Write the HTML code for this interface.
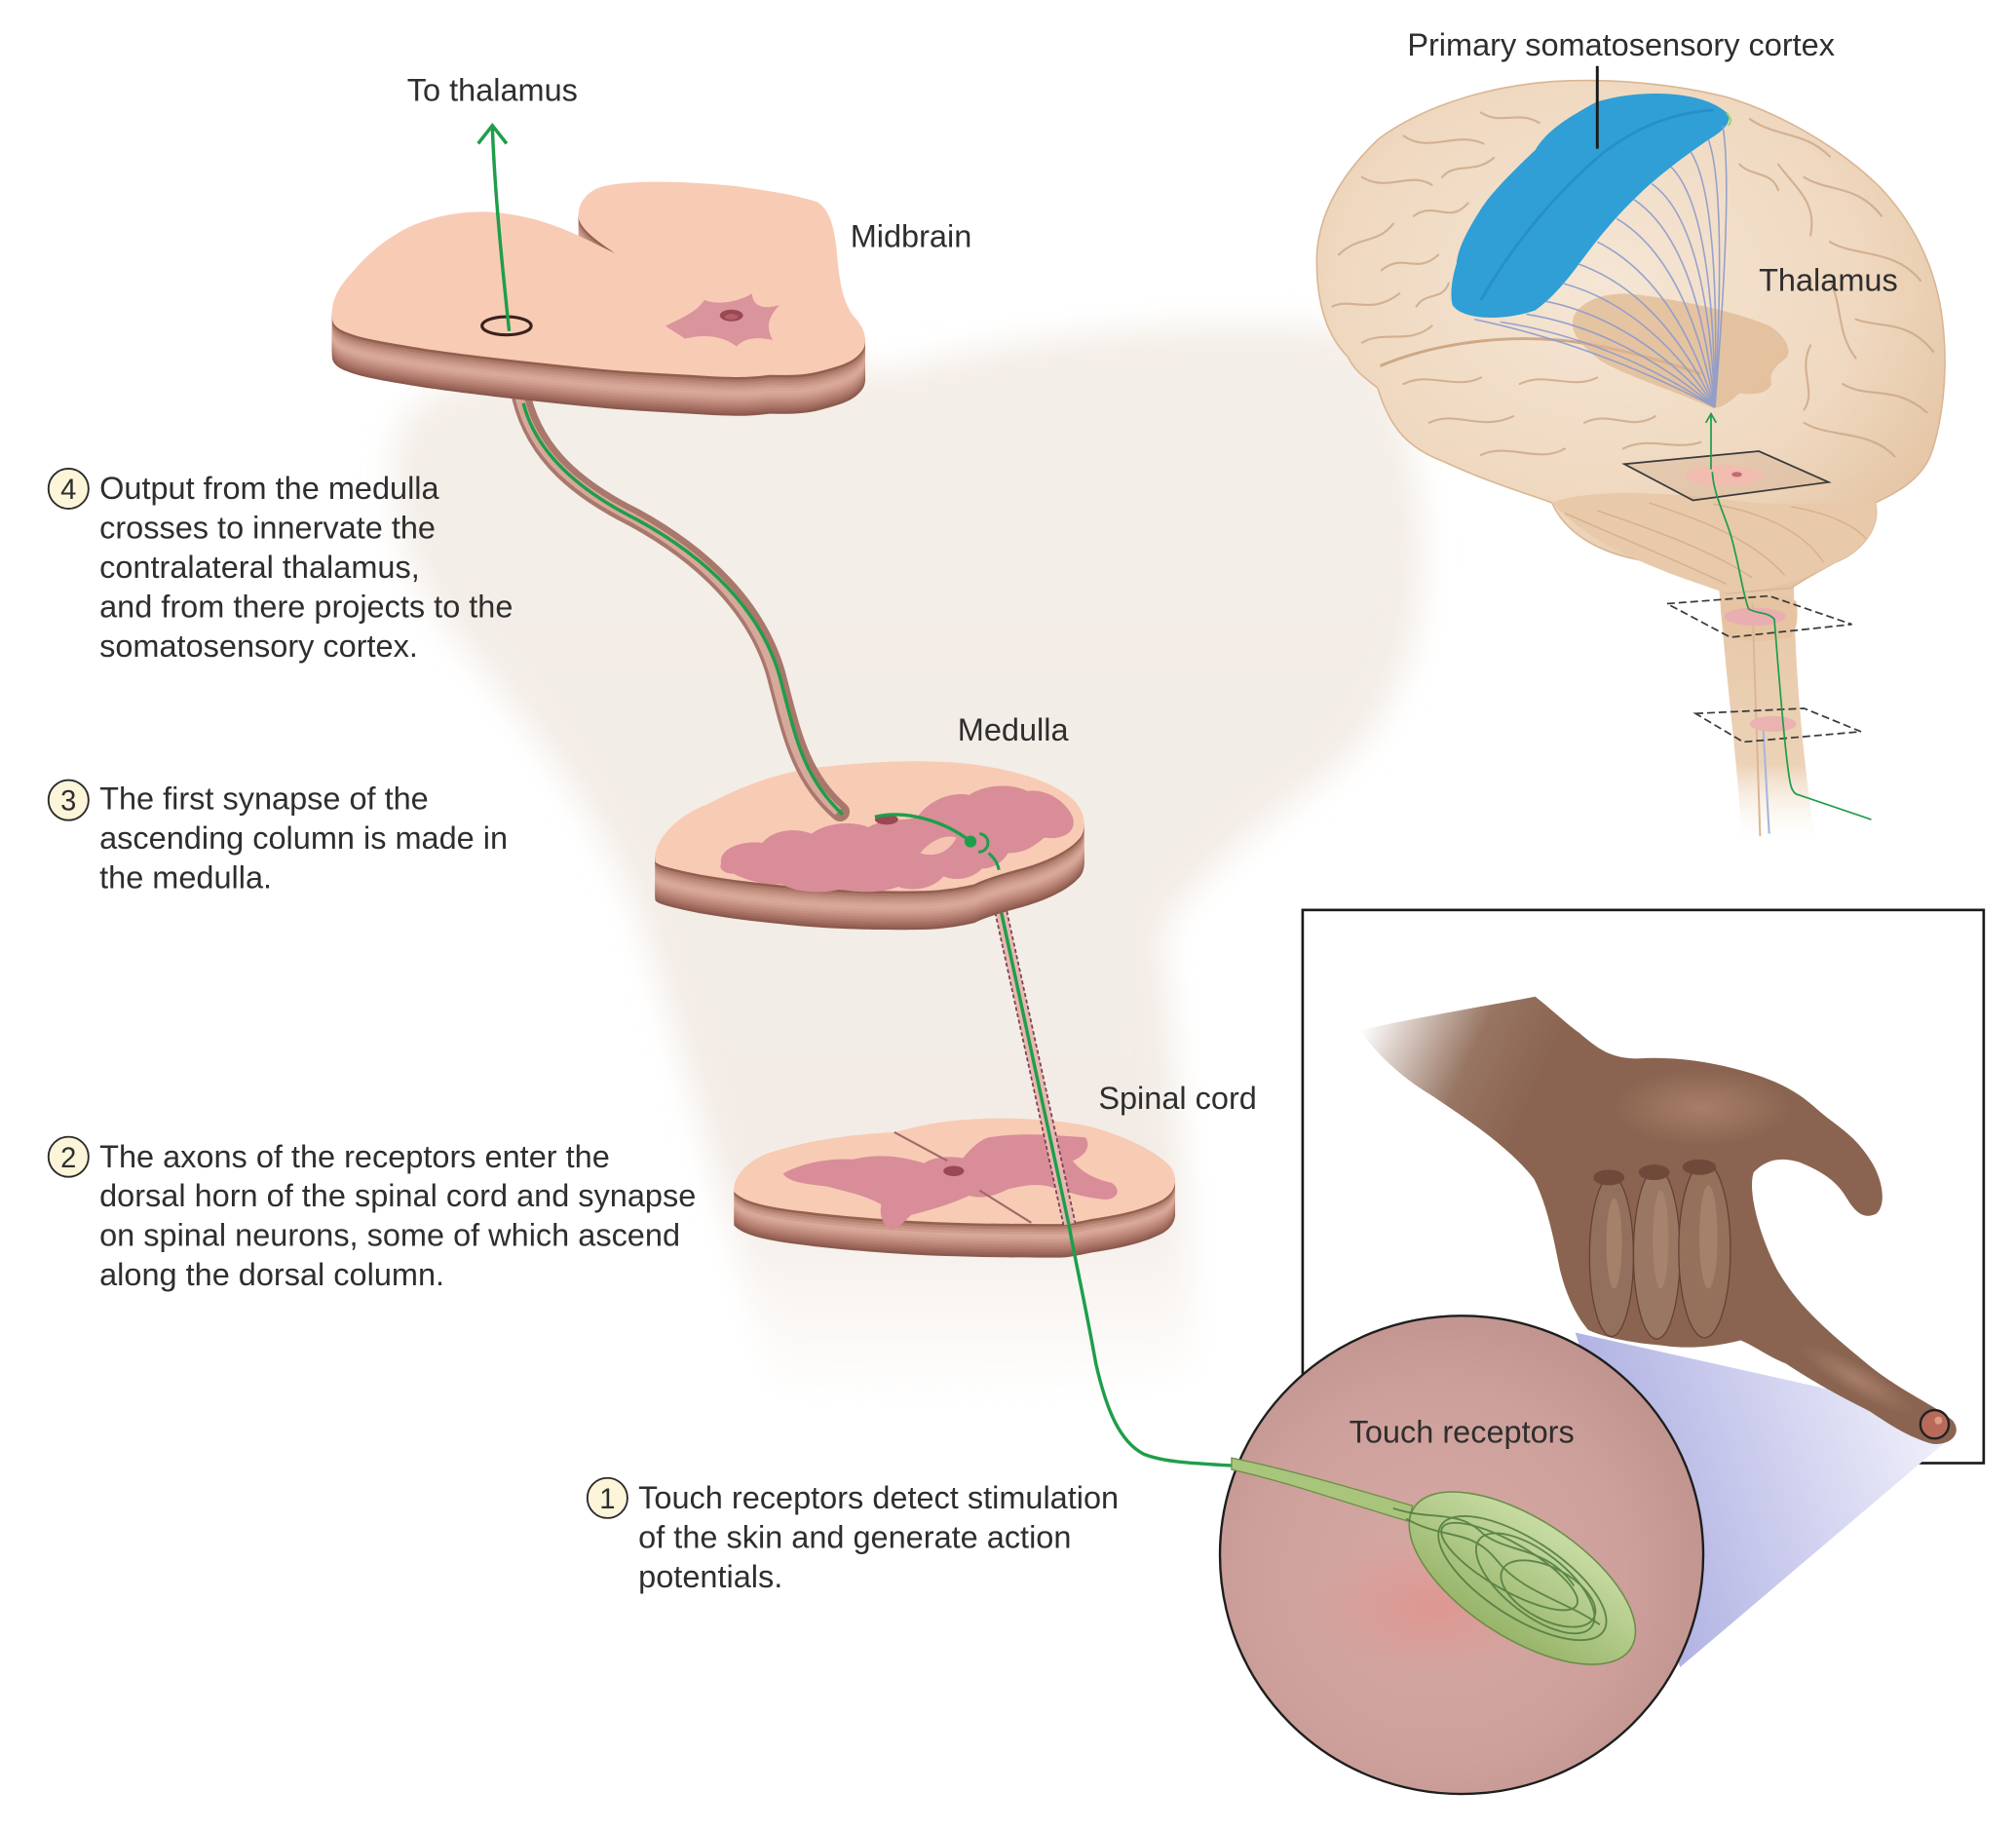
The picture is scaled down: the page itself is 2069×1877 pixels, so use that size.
<!DOCTYPE html>
<html><head><meta charset="utf-8">
<style>
html,body{margin:0;padding:0;background:#fff;}
svg{display:block;}
text{font-family:"Liberation Sans",Arial,sans-serif;fill:#2e2e2e;}
</style></head><body>
<svg width="2069" height="1877" viewBox="0 0 1560 1415" xmlns="http://www.w3.org/2000/svg" xmlns:xlink="http://www.w3.org/1999/xlink">
<defs>
  <filter id="blurBig" x="-30%" y="-30%" width="160%" height="160%"><feGaussianBlur stdDeviation="12"/></filter>
  <filter id="blurS" x="-30%" y="-30%" width="160%" height="160%"><feGaussianBlur stdDeviation="1.5"/></filter>

  <path id="mbTop" d="M 257,246 C 256,232 262,222 273,210 C 285,196 300,183 320,174 C 340,166 360,163 380,164 C 405,166 425,172 445,181 C 458,187 468,192 476,196 C 465,188 452,180 448,170 C 446,160 452,148 467,144 C 490,139 530,140 570,144 C 600,148 620,152 632,156 C 642,162 646,175 648,200 C 650,220 652,232 660,244 C 668,252 672,262 668,270 C 662,280 650,283 635,287 C 620,291 605,290 595,290 C 580,292 570,292 550,291 C 520,289 490,288 460,285 C 420,281 380,277 330,270 C 300,265 280,262 268,257 C 260,254 257,250 257,246 Z"/>
  <path id="medTop" d="M 507,666 C 505,650 525,630 548,622 C 570,610 600,598 630,594 C 680,588 730,587 764,593 C 795,598 820,608 832,620 C 842,632 840,645 834,650 C 825,660 805,668 790,672 C 775,676 762,680 754,684 C 745,686 735,688 720,689 C 690,690 640,689 606,685 C 575,682 545,678 525,673 C 512,670 507,668 507,666 Z"/>
  <path id="spTop" d="M 568,920 C 568,910 578,898 595,892 C 620,884 650,878 692,876 C 700,874 715,870 730,868 C 760,864 800,864 836,870 C 865,876 895,890 906,903 C 912,912 910,922 900,928 C 885,936 865,940 845,943 C 835,945 826,947 820,947 C 800,947 770,947 740,946 C 700,945 650,941 620,937 C 595,934 575,930 568,922 Z"/>

  <linearGradient id="coneG" x1="1250" y1="1170" x2="1500" y2="1090" gradientUnits="userSpaceOnUse">
    <stop offset="0" stop-color="#aeb0e2"/>
    <stop offset="1" stop-color="#f0f0fb"/>
  </linearGradient>
  <radialGradient id="circG" cx="0.45" cy="0.55" r="0.6">
    <stop offset="0" stop-color="#d7a9a4"/>
    <stop offset="0.65" stop-color="#cda09b"/>
    <stop offset="1" stop-color="#bf928d"/>
  </radialGradient>
  <radialGradient id="redSpot" cx="0.5" cy="0.5" r="0.5">
    <stop offset="0" stop-color="#e28f8a" stop-opacity="0.7"/>
    <stop offset="1" stop-color="#e28f8a" stop-opacity="0"/>
  </radialGradient>
  <linearGradient id="bulbG" x1="0" y1="0" x2="0" y2="1">
    <stop offset="0" stop-color="#c7dca3"/>
    <stop offset="1" stop-color="#98b56a"/>
  </linearGradient>
  <linearGradient id="handG" x1="1060" y1="790" x2="1190" y2="850" gradientUnits="userSpaceOnUse">
    <stop offset="0" stop-color="#8c6651" stop-opacity="0"/>
    <stop offset="0.6" stop-color="#8c6651" stop-opacity="0.9"/>
    <stop offset="1" stop-color="#8a6450"/>
  </linearGradient>
  <radialGradient id="handHi" cx="0.5" cy="0.5" r="0.5">
    <stop offset="0" stop-color="#ad836d" stop-opacity="0.85"/>
    <stop offset="1" stop-color="#ad836d" stop-opacity="0"/>
  </radialGradient>
  <linearGradient id="stemG" x1="0" y1="0" x2="0" y2="1">
    <stop offset="0" stop-color="#e6c6a6"/>
    <stop offset="0.7" stop-color="#ecd2b6"/>
    <stop offset="1" stop-color="#ffffff" stop-opacity="0"/>
  </linearGradient>
  <radialGradient id="brainG" cx="0.45" cy="0.4" r="0.65">
    <stop offset="0" stop-color="#f5e6d5"/>
    <stop offset="0.65" stop-color="#efd8bf"/>
    <stop offset="1" stop-color="#e4c4a3"/>
  </radialGradient>
  <linearGradient id="trunkG" x1="0" y1="0" x2="0" y2="1">
    <stop offset="0" stop-color="#f4eee8"/>
    <stop offset="0.8" stop-color="#f3ece6"/>
    <stop offset="1" stop-color="#ffffff"/>
  </linearGradient>
</defs>

<rect x="0" y="0" width="1560" height="1415" fill="#ffffff"/>

<!-- body silhouette -->
<path d="M 305,370 C 300,320 330,295 390,292 L 700,285 C 800,255 950,245 1040,255 C 1075,270 1090,320 1100,400 C 1105,480 1090,540 1040,590 C 990,630 930,670 900,720 C 910,840 920,950 925,1060 C 850,1090 680,1090 600,1080 C 570,960 530,820 495,710 C 460,620 400,550 350,490 C 318,450 305,410 305,370 Z" fill="url(#trunkG)" filter="url(#blurBig)"/>

<!-- ================= SPINAL CORD ================= -->
<g>
  <use xlink:href="#spTop" transform="translate(0,26)" fill="#8c5a4e"/>
  <use xlink:href="#spTop" transform="translate(0,24)" fill="#9a6659"/>
  <use xlink:href="#spTop" transform="translate(0,22)" fill="#a67164"/>
  <use xlink:href="#spTop" transform="translate(0,20)" fill="#b17c6e"/>
  <use xlink:href="#spTop" transform="translate(0,18)" fill="#bb8678"/>
  <use xlink:href="#spTop" transform="translate(0,16)" fill="#c49082"/>
  <use xlink:href="#spTop" transform="translate(0,14)" fill="#cd9a8b"/>
  <use xlink:href="#spTop" transform="translate(0,12)" fill="#d5a494"/>
  <use xlink:href="#spTop" transform="translate(0,10)" fill="#d8a898"/>
  <use xlink:href="#spTop" transform="translate(0,8)" fill="#cf9d8d"/>
  <use xlink:href="#spTop" transform="translate(0,6)" fill="#c49181"/>
  <use xlink:href="#spTop" transform="translate(0,4)" fill="#b28070"/>
  <use xlink:href="#spTop" transform="translate(0,2)" fill="#96624f"/>
  <use xlink:href="#spTop" fill="#f8cbb5"/>
  <path d="M 606,908 C 620,900 640,896 660,897 C 680,892 700,895 715,900 C 722,895 735,894 745,896 C 752,888 758,882 765,880 C 790,876 815,878 840,880 C 845,888 838,895 830,898 C 835,905 845,912 860,915 C 868,920 865,928 855,928 C 840,927 825,922 812,918 C 800,915 790,918 780,920 C 770,925 760,928 750,925 C 735,932 720,936 705,940 C 700,945 695,950 690,952 C 683,948 680,940 682,932 C 670,925 655,922 640,918 C 625,916 610,915 606,908 Z" fill="#d88d99"/>
  <ellipse cx="738" cy="906" rx="8" ry="4" fill="#9a4853"/>
  <line x1="692" y1="876" x2="733" y2="898" stroke="#a06a66" stroke-width="1.6"/>
  <line x1="758" y1="921" x2="798" y2="946" stroke="#a06a66" stroke-width="1.6"/>
</g>

<!-- dashed ascending tube -->
<polygon points="769,701 778,700 832,946 823,948" fill="#e6b8b4"/>
<line x1="769" y1="701" x2="823" y2="948" stroke="#7d3f46" stroke-width="1.3" stroke-dasharray="3 2"/>
<line x1="778" y1="700" x2="832" y2="946" stroke="#7d3f46" stroke-width="1.3" stroke-dasharray="3 2"/>
<line x1="774" y1="702" x2="827" y2="947" stroke="#1e9e4a" stroke-width="2.6"/>
<path d="M 827,947 C 832,975 840,1010 848,1055 C 856,1090 866,1115 885,1125 C 900,1131 920,1132 955,1134" fill="none" stroke="#1e9e4a" stroke-width="2.6"/>

<!-- ================= MEDULLA ================= -->
<g>
  <use xlink:href="#medTop" transform="translate(0,30)" fill="#8c5a4e"/>
  <use xlink:href="#medTop" transform="translate(0,28)" fill="#9a6659"/>
  <use xlink:href="#medTop" transform="translate(0,26)" fill="#a67164"/>
  <use xlink:href="#medTop" transform="translate(0,24)" fill="#b17c6e"/>
  <use xlink:href="#medTop" transform="translate(0,22)" fill="#bb8678"/>
  <use xlink:href="#medTop" transform="translate(0,20)" fill="#c49082"/>
  <use xlink:href="#medTop" transform="translate(0,18)" fill="#cd9a8b"/>
  <use xlink:href="#medTop" transform="translate(0,16)" fill="#d4a393"/>
  <use xlink:href="#medTop" transform="translate(0,14)" fill="#d8a898"/>
  <use xlink:href="#medTop" transform="translate(0,12)" fill="#d6a595"/>
  <use xlink:href="#medTop" transform="translate(0,10)" fill="#cf9d8d"/>
  <use xlink:href="#medTop" transform="translate(0,8)" fill="#c69383"/>
  <use xlink:href="#medTop" transform="translate(0,6)" fill="#bb8778"/>
  <use xlink:href="#medTop" transform="translate(0,4)" fill="#ab7869"/>
  <use xlink:href="#medTop" transform="translate(0,2)" fill="#93604f"/>
  <use xlink:href="#medTop" fill="#f8cbb5"/>
  <path d="M 558,668 C 556,656 575,650 590,652 C 598,642 615,640 628,645 C 640,636 660,635 672,640 C 685,632 700,636 710,632 C 718,620 735,612 750,615 C 760,608 780,605 795,612 C 810,610 825,620 830,632 C 834,645 820,650 808,648 C 800,655 792,660 780,660 C 775,668 768,672 760,672 C 752,680 740,682 730,678 C 722,688 705,690 695,686 C 680,692 660,690 650,688 C 635,692 615,690 605,684 C 590,685 575,680 568,676 C 560,676 556,672 558,668 Z" fill="#d88d99"/>
  <path d="M 712,660 C 720,650 732,645 740,648 C 735,658 725,664 712,660 Z" fill="#f5c4b0"/>
  <ellipse cx="686" cy="634" rx="9" ry="4" fill="#9a4853"/>
</g>
<!-- synapse in medulla -->
<path d="M 677,632 C 702,626 732,636 751,651" fill="none" stroke="#1e9e4a" stroke-width="2.6"/>
<circle cx="751" cy="651" r="4.6" fill="#1e9e4a"/>
<path d="M 758,645 A 6.5 6.5 0 1 1 757,659" fill="none" stroke="#1e9e4a" stroke-width="2.2"/>
<path d="M 765,660 C 770,664 772,668 773,673" fill="none" stroke="#1e9e4a" stroke-width="2.4"/>

<!-- tube midbrain->medulla -->
<path d="M 402,300 C 410,345 440,375 490,400 C 545,430 585,470 600,520 C 612,565 618,600 650,628" fill="none" stroke="#a9776b" stroke-width="15" stroke-linecap="round"/>
<path d="M 402,300 C 410,345 440,375 490,400 C 545,430 585,470 600,520 C 612,565 618,600 650,628" fill="none" stroke="#d7a89c" stroke-width="7" transform="translate(-1.5,0)"/>
<path d="M 405,312 C 414,347 443,377 493,402 C 548,432 588,472 603,522 C 615,567 620,600 652,630" fill="none" stroke="#1e9e4a" stroke-width="2.6"/>

<!-- ================= MIDBRAIN ================= -->
<g>
  <use xlink:href="#mbTop" transform="translate(0,30)" fill="#8c5a4e"/>
  <use xlink:href="#mbTop" transform="translate(0,28)" fill="#9a6659"/>
  <use xlink:href="#mbTop" transform="translate(0,26)" fill="#a67164"/>
  <use xlink:href="#mbTop" transform="translate(0,24)" fill="#b17c6e"/>
  <use xlink:href="#mbTop" transform="translate(0,22)" fill="#bb8678"/>
  <use xlink:href="#mbTop" transform="translate(0,20)" fill="#c49082"/>
  <use xlink:href="#mbTop" transform="translate(0,18)" fill="#cd9a8b"/>
  <use xlink:href="#mbTop" transform="translate(0,16)" fill="#d4a393"/>
  <use xlink:href="#mbTop" transform="translate(0,14)" fill="#d8a898"/>
  <use xlink:href="#mbTop" transform="translate(0,12)" fill="#d6a595"/>
  <use xlink:href="#mbTop" transform="translate(0,10)" fill="#cf9d8d"/>
  <use xlink:href="#mbTop" transform="translate(0,8)" fill="#c69383"/>
  <use xlink:href="#mbTop" transform="translate(0,6)" fill="#bb8778"/>
  <use xlink:href="#mbTop" transform="translate(0,4)" fill="#ab7869"/>
  <use xlink:href="#mbTop" transform="translate(0,2)" fill="#93604f"/>
  <use xlink:href="#mbTop" fill="#f8cbb5"/>
  <path d="M 515,252 C 530,245 540,240 545,232 C 555,236 570,234 582,227 C 582,236 590,240 603,236 C 595,245 592,252 598,263 C 585,260 575,262 570,268 C 560,260 545,258 530,262 C 525,258 520,256 515,252 Z" fill="#d68e99" opacity="0.9"/>
  <ellipse cx="566" cy="244" rx="9" ry="4.5" fill="#9a4853"/>
  <ellipse cx="566" cy="245" rx="5" ry="2.2" fill="#b65f6a"/>
  <ellipse cx="392" cy="252" rx="19" ry="7" fill="none" stroke="#3a221d" stroke-width="2.4"/>
</g>

<!-- green arrow to thalamus -->
<path d="M 394,256 C 388,200 383,150 381,99" fill="none" stroke="#1e9e4a" stroke-width="2.6"/>
<polyline points="370,111 381,97 392,111" fill="none" stroke="#1e9e4a" stroke-width="2.6"/>

<!-- ================= BRAIN ================= -->
<g transform="translate(-4,-3)">
  <!-- brainstem -->
  <path d="M 1333,440 C 1338,520 1350,600 1352,660 L 1410,660 C 1400,600 1392,520 1392,440 Z" fill="url(#stemG)"/>
  <path d="M 1336,468 C 1350,462 1380,462 1394,468 C 1396,482 1394,490 1390,496 C 1370,500 1350,500 1340,494 C 1336,486 1335,476 1336,468 Z" fill="#e6c4a2"/>
  <line x1="1360" y1="470" x2="1366" y2="650" stroke="#dbb694" stroke-width="1.5"/>
  <line x1="1368" y1="560" x2="1373" y2="648" stroke="#a9b6dc" stroke-width="1.6"/>
  <!-- main brain -->
  <path d="M 1047,279 C 1030,262 1022,235 1023,199 C 1025,170 1040,140 1070,111 C 1100,88 1150,70 1205,66 C 1250,63 1300,68 1340,78 C 1380,90 1425,115 1458,147 C 1485,175 1502,210 1507,250 C 1512,290 1507,330 1498,355 C 1490,375 1470,385 1455,392 C 1460,410 1445,430 1424,438 C 1410,446 1398,452 1390,458 L 1340,462 C 1320,450 1290,440 1272,436 C 1240,430 1215,415 1205,392 C 1190,386 1160,378 1121,360 C 1095,350 1080,336 1070,303 C 1060,295 1052,290 1047,279 Z" fill="url(#brainG)" stroke="#d9b693" stroke-width="1.2"/>
  <!-- cerebellum -->
  <path d="M 1205,392 C 1235,380 1300,384 1360,392 C 1410,394 1445,390 1455,392 C 1460,410 1445,430 1424,438 C 1400,452 1380,458 1340,462 C 1300,448 1240,430 1205,392 Z" fill="#e8c9a9"/>
  <g fill="none" stroke="#d3ab88" stroke-width="1.1" opacity="0.8">
    <path d="M 1215,400 C 1260,420 1310,440 1340,455"/>
    <path d="M 1240,398 C 1290,415 1330,430 1360,450"/>
    <path d="M 1280,392 C 1320,405 1360,420 1385,448"/>
    <path d="M 1330,393 C 1370,400 1400,415 1415,438"/>
    <path d="M 1390,395 C 1420,400 1440,410 1448,420"/>
  </g>
  <!-- sulci -->
  <g fill="none" stroke="#c9a383" stroke-width="1.6" opacity="0.75" stroke-linecap="round">
    <path d="M 1040,200 C 1055,185 1070,192 1082,176"/>
    <path d="M 1035,240 C 1050,233 1065,247 1087,230"/>
    <path d="M 1058,140 C 1078,152 1095,135 1112,146"/>
    <path d="M 1090,108 C 1110,122 1130,104 1152,114"/>
    <path d="M 1073,212 C 1090,198 1100,216 1117,200"/>
    <path d="M 1058,268 C 1075,258 1095,270 1112,255"/>
    <path d="M 1098,170 C 1115,158 1125,177 1140,160"/>
    <path d="M 1150,90 C 1165,100 1180,88 1195,98"/>
    <path d="M 1120,140 C 1130,128 1145,138 1160,125"/>
    <path d="M 1100,240 C 1108,228 1120,236 1125,222"/>
    <path d="M 1358,95 C 1380,110 1400,104 1420,124"/>
    <path d="M 1400,140 C 1420,152 1440,145 1460,170"/>
    <path d="M 1420,190 C 1440,202 1470,195 1490,220"/>
    <path d="M 1440,250 C 1460,257 1480,250 1500,275"/>
    <path d="M 1430,300 C 1450,312 1470,300 1495,322"/>
    <path d="M 1400,330 C 1420,342 1450,335 1470,356"/>
    <path d="M 1380,130 C 1395,150 1410,160 1405,185"/>
    <path d="M 1420,220 C 1430,240 1425,260 1440,280"/>
    <path d="M 1405,270 C 1395,290 1410,305 1400,320"/>
    <path d="M 1090,300 C 1110,290 1130,305 1150,295"/>
    <path d="M 1110,330 C 1130,320 1150,337 1175,325"/>
    <path d="M 1150,355 C 1170,345 1195,362 1215,350"/>
    <path d="M 1180,300 C 1200,290 1220,305 1240,295"/>
    <path d="M 1230,330 C 1250,320 1265,337 1285,325"/>
    <path d="M 1260,350 C 1280,340 1300,352 1320,345"/>
    <path d="M 1350,130 C 1360,140 1375,135 1380,150"/>
  </g>
  <path d="M 1072,286 C 1110,270 1160,262 1210,266 C 1250,270 1290,282 1320,292" fill="none" stroke="#c49b77" stroke-width="2.2" opacity="0.8"/>
  <!-- blue somatosensory band -->
  <path d="M 1340,90 C 1320,72 1270,72 1239,82 C 1215,95 1200,105 1192,119 C 1175,135 1160,150 1151,163 C 1140,180 1132,195 1131,207 C 1127,220 1126,232 1128,239 C 1135,250 1165,252 1192,243 C 1210,230 1222,212 1232,199 C 1250,175 1265,160 1279,147 C 1295,133 1310,122 1326,111 C 1340,103 1345,95 1340,90 Z" fill="#2f9fd5"/>
  <path d="M 1150,235 C 1170,200 1200,160 1240,125 C 1270,100 1300,90 1330,88" fill="none" stroke="#2389bd" stroke-width="2" opacity="0.7"/>
  <path d="M 1340,90 C 1343,94 1345,97 1341,100" fill="none" stroke="#9ad36a" stroke-width="1.5"/>
  <!-- thalamus -->
  <path d="M 1222,247 C 1230,232 1255,228 1272,231 C 1310,236 1350,245 1373,255 C 1385,262 1390,272 1387,279 C 1380,285 1372,290 1375,300 C 1372,307 1362,309 1350,307 C 1345,312 1338,318 1330,319 C 1300,305 1250,290 1239,279 C 1225,268 1218,258 1222,247 Z" fill="#deb68e" opacity="0.7"/>
  <!-- fibers -->
  <g fill="none" stroke="#8c9bcb" stroke-width="1.2" opacity="0.9">
    <path d="M 1331,318 Q 1240,270 1145,250"/>
    <path d="M 1331,318 Q 1250,265 1165,252"/>
    <path d="M 1331,318 Q 1260,258 1185,246"/>
    <path d="M 1331,318 Q 1270,250 1200,236"/>
    <path d="M 1331,318 Q 1280,240 1213,222"/>
    <path d="M 1331,318 Q 1290,230 1225,207"/>
    <path d="M 1331,318 Q 1300,220 1240,190"/>
    <path d="M 1331,318 Q 1310,205 1255,172"/>
    <path d="M 1331,318 Q 1318,190 1268,157"/>
    <path d="M 1331,318 Q 1325,175 1282,145"/>
    <path d="M 1331,318 Q 1330,165 1297,132"/>
    <path d="M 1331,318 Q 1335,155 1312,120"/>
    <path d="M 1331,318 Q 1340,150 1326,111"/>
    <path d="M 1331,318 Q 1345,145 1337,100"/>
  </g>
  <!-- planes -->
  <polygon points="1261,362 1365,352 1419,376 1314,390" fill="#cfa98c" fill-opacity="0.35" stroke="#3a3a3a" stroke-width="1.3"/>
  <ellipse cx="1338" cy="371" rx="30" ry="8" fill="#f2bcb0"/>
  <ellipse cx="1348" cy="370" rx="4" ry="2" fill="#c56a75"/>
  <polygon points="1294,470 1373,464 1437,486 1343,496" fill="none" stroke="#3a3a3a" stroke-width="1.3" stroke-dasharray="6 3"/>
  <ellipse cx="1362" cy="480" rx="24" ry="7" fill="#e9aeb0"/>
  <polygon points="1316,555 1400,551 1444,569 1353,577" fill="none" stroke="#3a3a3a" stroke-width="1.3" stroke-dasharray="6 3"/>
  <ellipse cx="1376" cy="563" rx="18" ry="6" fill="#eab2b0"/>
  <!-- thin green pathway -->
  <path d="M 1329,368 C 1330,385 1338,400 1343,416 C 1350,440 1352,460 1357,474 C 1363,478 1372,476 1377,482 C 1380,520 1384,570 1387,593 C 1389,610 1390,617 1396,618 L 1452,637" fill="none" stroke="#1e9e4a" stroke-width="1.3"/>
  <line x1="1328" y1="366" x2="1328" y2="324" stroke="#1e9e4a" stroke-width="1.3"/>
  <polyline points="1324,330 1328,323 1332,330" fill="none" stroke="#1e9e4a" stroke-width="1.3"/>
  <!-- leader line -->
  <line x1="1240" y1="54" x2="1240" y2="118" stroke="#1a1a1a" stroke-width="2.2"/>
</g>

<!-- ================= INSET BOX ================= -->
<rect x="1008" y="704" width="527" height="428" fill="none" stroke="#1a1a1a" stroke-width="2"/>

<!-- cone -->
<polygon points="1219,1031 1487,1091 1512,1110 1300,1290" fill="url(#coneG)"/>

<!-- hand -->
<g transform="translate(-3,-3)">
  <path d="M 1056,800 C 1100,790 1160,780 1191,774 C 1205,785 1215,795 1225,802 C 1240,815 1250,822 1270,822 C 1300,820 1330,825 1357,833 C 1380,840 1395,848 1410,862 C 1425,875 1437,880 1450,900 C 1460,915 1463,935 1455,942 C 1445,947 1438,940 1432,930 C 1425,918 1415,910 1395,902 C 1380,898 1370,900 1360,910 C 1355,925 1365,960 1378,985 C 1395,1015 1420,1035 1450,1060 C 1475,1080 1500,1090 1514,1102 C 1522,1112 1512,1122 1498,1120 C 1480,1115 1465,1105 1450,1095 C 1420,1080 1400,1068 1385,1058 C 1370,1052 1362,1045 1350,1040 C 1330,1045 1310,1047 1290,1044 C 1265,1042 1245,1038 1232,1032 C 1222,1020 1215,1005 1210,985 C 1205,960 1200,935 1190,915 C 1170,890 1140,870 1110,850 C 1085,835 1065,815 1056,800 Z" fill="url(#handG)"/>
  <ellipse cx="1320" cy="860" rx="70" ry="30" fill="url(#handHi)"/>
  <ellipse cx="1440" cy="1070" rx="50" ry="12" transform="rotate(30 1440 1070)" fill="url(#handHi)"/>
  <ellipse cx="1250" cy="975" rx="17" ry="62" fill="#93705d" stroke="#654234" stroke-width="1"/>
  <ellipse cx="1285" cy="973" rx="18" ry="66" fill="#9a7762" stroke="#654234" stroke-width="1"/>
  <ellipse cx="1322" cy="970" rx="20" ry="68" fill="#95705b" stroke="#654234" stroke-width="1"/>
  <ellipse cx="1252" cy="965" rx="6" ry="35" fill="#b08c77" opacity="0.6"/>
  <ellipse cx="1288" cy="962" rx="6" ry="38" fill="#b08c77" opacity="0.6"/>
  <ellipse cx="1325" cy="960" rx="7" ry="40" fill="#b08c77" opacity="0.6"/>
  <ellipse cx="1248" cy="914" rx="12" ry="6" fill="#71493a"/>
  <ellipse cx="1283" cy="910" rx="12" ry="6" fill="#71493a"/>
  <ellipse cx="1318" cy="906" rx="13" ry="6" fill="#71493a"/>
</g>
<!-- fingertip ring -->
<circle cx="1497" cy="1102" r="11" fill="#b86a5a" stroke="#222" stroke-width="1.8"/>
<circle cx="1500" cy="1099" r="3" fill="#e09a8a"/>

<!-- magnifier circle -->
<ellipse cx="1131" cy="1203" rx="187" ry="185" fill="url(#circG)" stroke="#1e1e1e" stroke-width="1.8"/>
<ellipse cx="1108" cy="1242" rx="90" ry="55" fill="url(#redSpot)"/>
<!-- touch receptor -->
<g transform="translate(-2,-3)">
  <path d="M 955,1131 C 1000,1140 1050,1155 1095,1168 L 1092,1180 C 1050,1168 1000,1150 955,1140 Z" fill="#a9c57c" stroke="#6e8f4a" stroke-width="1"/>
  <ellipse cx="1180" cy="1224" rx="100" ry="46" transform="rotate(33 1180 1224)" fill="url(#bulbG)" stroke="#6d8d48" stroke-width="1.2"/>
  <g fill="none" stroke="#4f7a3f" stroke-width="1.4" opacity="0.85">
    <ellipse cx="1180" cy="1224" rx="75" ry="30" transform="rotate(33 1180 1224)"/>
    <ellipse cx="1190" cy="1228" rx="55" ry="24" transform="rotate(38 1190 1228)"/>
    <ellipse cx="1200" cy="1236" rx="40" ry="20" transform="rotate(28 1200 1236)"/>
    <ellipse cx="1170" cy="1215" rx="60" ry="18" transform="rotate(30 1170 1215)"/>
    <path d="M 1080,1170 C 1110,1180 1130,1170 1150,1190 C 1170,1205 1200,1200 1220,1230"/>
    <path d="M 1090,1178 C 1120,1195 1140,1185 1160,1210 C 1180,1235 1210,1240 1240,1260"/>
  </g>
</g>

<!-- ================= TEXT ================= -->
<g font-size="24.5">
  <text x="315" y="78">To thalamus</text>
  <text x="658" y="191">Midbrain</text>
  <text x="1089" y="43">Primary somatosensory cortex</text>
  <text x="1361" y="225">Thalamus</text>
  <text x="741" y="573">Medulla</text>
  <text x="850" y="858">Spinal cord</text>
  <text x="1044" y="1116">Touch receptors</text>

  <text x="77" y="386">Output from the medulla</text>
  <text x="77" y="416.5">crosses to innervate the</text>
  <text x="77" y="447">contralateral thalamus,</text>
  <text x="77" y="477.5">and from there projects to the</text>
  <text x="77" y="508">somatosensory cortex.</text>

  <text x="77" y="626">The first synapse of the</text>
  <text x="77" y="656.5">ascending column is made in</text>
  <text x="77" y="687">the medulla.</text>

  <text x="77" y="903">The axons of the receptors enter the</text>
  <text x="77" y="933.5">dorsal horn of the spinal cord and synapse</text>
  <text x="77" y="964">on spinal neurons, some of which ascend</text>
  <text x="77" y="994.5">along the dorsal column.</text>

  <text x="494" y="1167">Touch receptors detect stimulation</text>
  <text x="494" y="1197.5">of the skin and generate action</text>
  <text x="494" y="1228">potentials.</text>
</g>
<g fill="#fcf5da" stroke="#2a2a2a" stroke-width="1.4">
  <ellipse cx="53" cy="378" rx="15.5" ry="15.5"/>
  <ellipse cx="53" cy="619" rx="15.5" ry="15.5"/>
  <ellipse cx="53" cy="895" rx="15.5" ry="15.5"/>
  <ellipse cx="470" cy="1159" rx="15.5" ry="15.5"/>
</g>
<g font-size="22" text-anchor="middle">
  <text x="53" y="386">4</text>
  <text x="53" y="627">3</text>
  <text x="53" y="903">2</text>
  <text x="470" y="1167">1</text>
</g>
</svg>
</body></html>
